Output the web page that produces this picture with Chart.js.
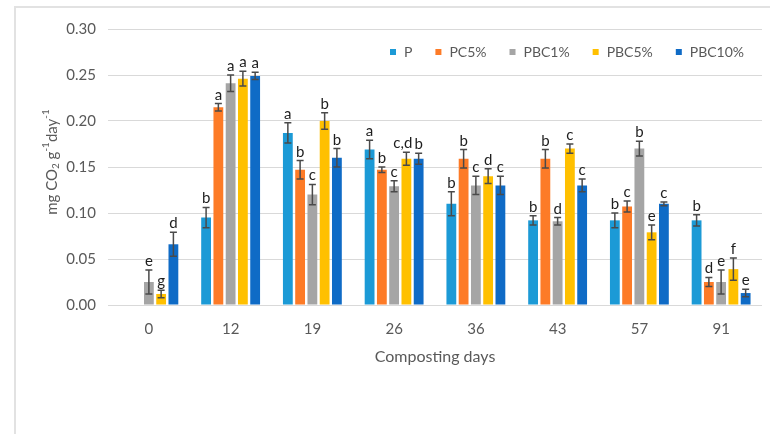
<!DOCTYPE html>
<html>
<head>
<meta charset="utf-8">
<title>CO2 respiration during composting</title>
<script src="https://cdn.jsdelivr.net/npm/chart.js@4.4.1/dist/chart.umd.min.js"></script>
<style>
  html, body { margin: 0; padding: 0; background: #fff; overflow: hidden; }
  #frame { position: absolute; left: 14px; top: 6px; width: 820px; height: 520px;
           border-left: 2px solid #e2e2e2; border-top: 2px solid #e2e2e2; }
  #wrap { position: absolute; left: 0; top: 0; width: 770px; height: 434px; }
</style>
</head>
<body>
<div id="frame"></div>
<div id="wrap"><canvas id="respChart" width="770" height="434"></canvas></div>
<script>
// composting days (x categories)
const days = ['0', '12', '19', '26', '36', '43', '57', '91'];
const yTicks = [0, 0.05, 0.10, 0.15, 0.20, 0.25, 0.30];

// respiration rate, mg CO2 per g per day
const valP      = [null,  0.095, 0.187, 0.169, 0.110, 0.092, 0.092, 0.092];
const valPC5    = [null,  0.215, 0.147, 0.147, 0.159, 0.159, 0.107, 0.025];
const valPBC1   = [0.025, 0.241, 0.120, 0.129, 0.130, 0.091, 0.170, 0.025];
const valPBC5   = [0.012, 0.246, 0.200, 0.159, 0.140, 0.170, 0.079, 0.039];
const valPBC10  = [0.066, 0.249, 0.160, 0.159, 0.130, 0.130, 0.110, 0.013];

// standard deviations
const errP      = [0,     0.011, 0.011, 0.010, 0.013, 0.005, 0.008, 0.006];
const errPC5    = [0,     0.004, 0.010, 0.003, 0.010, 0.010, 0.006, 0.005];
const errPBC1   = [0.013, 0.009, 0.011, 0.006, 0.010, 0.004, 0.008, 0.013];
const errPBC5   = [0.004, 0.008, 0.009, 0.007, 0.008, 0.005, 0.008, 0.012];
const errPBC10  = [0.013, 0.004, 0.010, 0.006, 0.010, 0.007, 0.002, 0.004];

// significance letters
const letP      = ['',  'b', 'a', 'a',   'b', 'b', 'b', 'b'];
const letPC5    = ['',  'a', 'b', 'b',   'b', 'b', 'c', 'd'];
const letPBC1   = ['e', 'a', 'c', 'c',   'c', 'd', 'b', 'e'];
const letPBC5   = ['g', 'a', 'b', 'c,d', 'd', 'c', 'e', 'f'];
const letPBC10  = ['d', 'a', 'b', 'b',   'c', 'c', 'c', 'e'];

const names  = ['P', 'PC5%', 'PBC1%', 'PBC5%', 'PBC10%'];
const colors = ['#1c9ad6', '#fd7b27', '#a5a5a5', '#ffc000', '#0f6bc6'];
const values = [valP, valPC5, valPBC1, valPBC5, valPBC10];
const errors = [errP, errPC5, errPBC1, errPBC5, errPBC10];
const letters = [letP, letPC5, letPBC1, letPBC5, letPBC10];

const FONT = 'Lato, "Open Sans", sans-serif';
const GREY_TEXT = '#595959';

// error bars, letters, legend and axis titles
const extras = {
  id: 'extras',
  afterDatasetsDraw(chart) {
    const ctx = chart.ctx;
    const ys = chart.scales.y;
    ctx.save();
    chart.data.datasets.forEach((ds, di) => {
      const meta = chart.getDatasetMeta(di);
      meta.data.forEach((bar, i) => {
        const v = ds.data[i];
        if (v == null) return;
        const e = ds.errors[i];
        const yTop = ys.getPixelForValue(v + e);
        const yBot = ys.getPixelForValue(v - e);
        ctx.strokeStyle = '#4a4a4a';
        ctx.lineWidth = 1.5;
        ctx.beginPath();
        ctx.moveTo(bar.x, yTop); ctx.lineTo(bar.x, yBot);
        ctx.moveTo(bar.x - 3.5, yTop); ctx.lineTo(bar.x + 3.5, yTop);
        ctx.moveTo(bar.x - 3.5, yBot); ctx.lineTo(bar.x + 3.5, yBot);
        ctx.stroke();

        const txt = ds.letters[i];
        if (!txt) return;
        ctx.fillStyle = '#1e1e1e';
        ctx.font = '15px ' + FONT;
        ctx.textBaseline = 'alphabetic';
        if (txt.length > 1) {
          ctx.textAlign = 'right';
          ctx.fillText(txt, bar.x + bar.width / 2 + 1, yTop - 4);
        } else {
          ctx.textAlign = 'center';
          ctx.fillText(txt, bar.x, yTop - 4);
        }
      });
    });
    ctx.restore();
  },
  afterDraw(chart) {
    const ctx = chart.ctx;
    const area = chart.chartArea;
    ctx.save();

    // legend inside the plot, top right
    ctx.font = '14px ' + FONT;
    ctx.textBaseline = 'middle';
    ctx.textAlign = 'left';
    let lx = 390;
    const ly = 52;
    chart.data.datasets.forEach(ds => {
      ctx.fillStyle = ds.backgroundColor;
      ctx.fillRect(lx, ly - 3, 6, 6);
      ctx.fillStyle = GREY_TEXT;
      ctx.fillText(ds.label, lx + 14, ly);
      lx += 14 + ctx.measureText(ds.label).width + 23;
    });

    // x axis title
    ctx.font = '16px ' + FONT;
    ctx.textAlign = 'center';
    ctx.fillStyle = GREY_TEXT;
    ctx.fillText('Composting days', (area.left + area.right) / 2, 357);

    // y axis title with sub/superscripts
    const parts = [
      ['mg CO', 0, 15], ['2', 4, 10], [' g', 0, 15], ['-1', -6, 10],
      ['day', 0, 15], ['-1', -6, 10]
    ];
    ctx.translate(52, (area.top + area.bottom) / 2 - 5);
    ctx.rotate(-Math.PI / 2);
    let total = 0;
    parts.forEach(p => { ctx.font = p[2] + 'px ' + FONT; total += ctx.measureText(p[0]).width; });
    let px = -total / 2;
    ctx.textAlign = 'left';
    parts.forEach(p => {
      ctx.font = p[2] + 'px ' + FONT;
      ctx.fillText(p[0], px, p[1]);
      px += ctx.measureText(p[0]).width;
    });
    ctx.restore();
  }
};

const datasets = names.map((n, k) => ({
  label: n,
  data: values[k],
  errors: errors[k],
  letters: letters[k],
  backgroundColor: colors[k],
  borderWidth: 0,
  barPercentage: 0.8,
  categoryPercentage: 0.75
}));

new Chart(document.getElementById('respChart').getContext('2d'), {
  type: 'bar',
  data: { labels: days, datasets },
  options: {
    responsive: false,
    animation: false,
    devicePixelRatio: 1,
    layout: { padding: { left: 0, right: 8, top: 29, bottom: 0 } },
    plugins: { legend: { display: false }, tooltip: { enabled: false } },
    scales: {
      x: {
        grid: { display: false, drawTicks: false },
        border: { display: false },
        ticks: { color: GREY_TEXT, font: { family: FONT, size: 15 }, padding: 15 },
        afterFit(s) { s.height = 129; }
      },
      y: {
        min: 0,
        max: 0.30,
        afterBuildTicks(s) { s.ticks = yTicks.map(v => ({ value: v })); },
        grid: { color: '#d9d9d9', lineWidth: 1, drawTicks: false },
        border: { display: false },
        ticks: {
          color: GREY_TEXT,
          font: { family: FONT, size: 15 },
          padding: 12,
          callback: v => v.toFixed(2)
        },
        afterFit(s) { s.width = 108; }
      }
    }
  },
  plugins: [extras]
});
</script>
</body>
</html>
